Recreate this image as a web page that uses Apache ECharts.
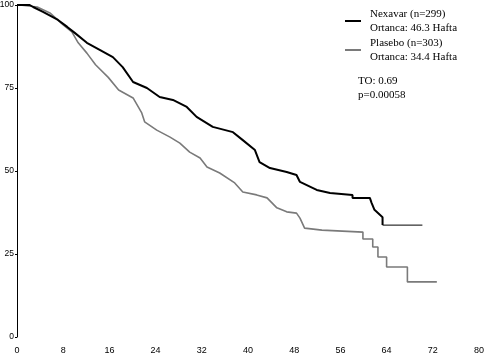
<!DOCTYPE html>
<html><head><meta charset="utf-8">
<script src="https://cdn.jsdelivr.net/npm/echarts@6/dist/echarts.min.js"></script>
<style>html,body{margin:0;padding:0;background:#fff}#c{width:484px;height:356px}</style>
</head><body><div id="c"></div>
<script>
var xTicks = [0, 8, 16, 24, 32, 40, 48, 56, 64, 72, 80];
var yTicks = [0, 25, 50, 75, 100];
var nexavar = [[0,100],[2.2,100],[2.8,99.4],[4.5,97.9],[7.1,95.5],[8.7,93.4],[10.0,91.6],[12.1,88.6],[14.4,86.4],[16.6,84.3],[18.3,81.3],[20.1,76.8],[22.5,75.0],[24.7,72.3],[27.0,71.4],[29.4,69.3],[31.1,66.3],[33.9,63.3],[37.4,61.7],[39.1,59.3],[41.2,56.3],[42.0,52.7],[43.8,50.9],[46.7,49.7],[48.4,48.8],[49.0,46.7],[51.9,44.3],[54.2,43.4],[58.1,42.8],[58.1,41.9],[61.1,41.9],[61.4,40.4],[61.9,38.3],[63.3,36.1],[63.3,33.7]];
var nexavarTail = [[63.3,33.7],[70.2,33.7]];
var plasebo = [[0,100],[0.5,100],[3.5,99.4],[5.7,97.6],[8.0,94.0],[9.5,91.9],[10.6,88.6],[12.1,85.5],[13.6,82.0],[15.8,78.2],[17.6,74.4],[20.1,72.0],[21.6,67.5],[22.1,64.8],[24.2,62.3],[26.5,60.2],[28.2,58.4],[29.9,55.7],[31.7,53.9],[32.9,51.2],[35.1,49.4],[37.7,46.4],[39.1,43.7],[41.5,42.8],[43.3,41.9],[45.0,38.9],[46.7,37.7],[48.4,37.3],[49.0,35.8],[49.8,32.8],[52.8,32.2],[52.8,31.6],[59.9,31.6],[59.9,29.5],[61.6,29.5],[61.6,27.1],[62.5,27.1],[62.5,24.1],[64.0,24.1],[64.0,21.1],[67.6,21.1],[67.6,16.6],[72.7,16.6]];
var legendLines = [
  ["Nexavar (n=299)", "Ortanca: 46.3 Hafta"],
  ["Plasebo (n=303)", "Ortanca: 34.4 Hafta"],
  ["TO: 0.69", "p=0.00058"]
];

var chart = echarts.init(document.getElementById('c'), null, {renderer: 'canvas'});
var serif = "'Liberation Serif', 'DejaVu Serif', serif";
var txtStyle = {fontFamily: serif, fontSize: 11, fill: '#000'};
chart.setOption({
  animation: false,
  grid: {left: 17, right: 5, top: 5, bottom: 19, containLabel: false, outerBoundsMode: 'none'},
  xAxis: {
    type: 'value', min: 0, max: 80, interval: 8,
    axisLine: {show: false},
    axisTick: {show: false},
    splitLine: {show: false},
    axisLabel: {color: '#000', fontFamily: "'Liberation Sans', Arial, sans-serif", fontSize: 9, margin: 9,
      formatter: function (v) { return xTicks.indexOf(v) >= 0 ? String(v) : ''; }}
  },
  yAxis: {
    type: 'value', min: 0, max: 100, interval: 25,
    axisLine: {show: true, lineStyle: {color: '#000', width: 1}},
    axisTick: {show: true, length: 2, lineStyle: {color: '#000'}},
    splitLine: {show: false},
    axisLabel: {color: '#000', fontFamily: "'Liberation Sans', Arial, sans-serif", fontSize: 8.5, margin: 3,
      formatter: function (v) { return yTicks.indexOf(v) >= 0 ? String(v) : ''; }}
  },
  series: [
    {type: 'line', data: plasebo, showSymbol: false, lineStyle: {color: '#7a7a7a', width: 1.6}, z: 2},
    {type: 'line', data: nexavar, showSymbol: false, lineStyle: {color: '#000', width: 2}, z: 3},
    {type: 'line', data: nexavarTail, showSymbol: false, lineStyle: {color: '#000', width: 1}, z: 3}
  ],
  graphic: [
    {type: 'line', shape: {x1: 345, y1: 21, x2: 361, y2: 21}, style: {stroke: '#000', lineWidth: 2}},
    {type: 'text', left: 370, top: 9, style: Object.assign({text: legendLines[0][0]}, txtStyle)},
    {type: 'text', left: 370, top: 23, style: Object.assign({text: legendLines[0][1]}, txtStyle)},
    {type: 'line', shape: {x1: 345, y1: 50, x2: 361, y2: 50}, style: {stroke: '#7a7a7a', lineWidth: 2}},
    {type: 'text', left: 370, top: 38, style: Object.assign({text: legendLines[1][0]}, txtStyle)},
    {type: 'text', left: 370, top: 52, style: Object.assign({text: legendLines[1][1]}, txtStyle)},
    {type: 'text', left: 358, top: 76, style: Object.assign({text: legendLines[2][0]}, txtStyle)},
    {type: 'text', left: 358, top: 90, style: Object.assign({text: legendLines[2][1]}, txtStyle)}
  ]
});
</script></body></html>
